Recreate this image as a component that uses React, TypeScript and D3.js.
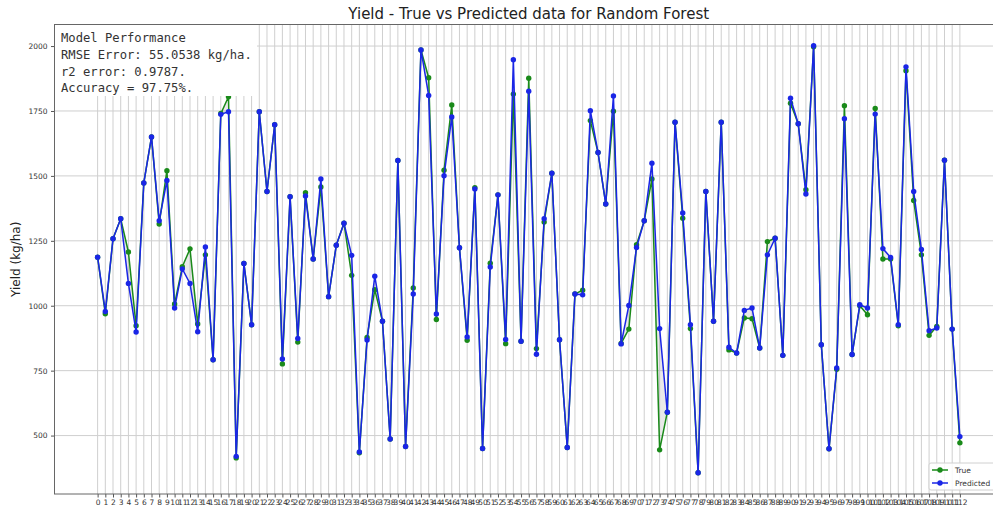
import React, { useEffect, useRef } from 'react';
import * as d3 from 'd3';

// values (kg/ha), index 0..112
const trueYield = [
  1187, 969, 1258, 1335, 1207, 923, 1473, 1650, 1315, 1520,
  1007, 1150, 1219, 930, 1196, 792, 1740, 1805, 414, 1163,
  927, 1747, 1440, 1697, 776, 1420, 860, 1435, 1180, 1457,
  1035, 1233, 1318, 1117, 434, 878, 1062, 940, 487, 1559,
  458, 1068, 1985, 1878, 947, 1522, 1773, 1223, 867, 1455,
  450, 1164, 1427, 854, 1815, 863, 1876, 835, 1322, 1510,
  869, 454, 1045, 1060, 1713, 1590, 1392, 1749, 855, 910,
  1235, 1327, 1488, 445, 590, 1707, 1337, 912, 357, 1440,
  940, 1707, 830, 818, 953, 950, 837, 1247, 1260, 809,
  1780, 1701, 1447, 1997, 850, 449, 755, 1770, 812, 1000,
  965, 1760, 1180, 1180, 923, 1905, 1405, 1196, 886, 920,
  1560, 910, 472,
];
const predYield = [
  1187, 978, 1258, 1335, 1086, 899, 1473, 1650, 1327, 1482,
  991, 1142, 1086, 900, 1226, 792, 1737, 1747, 420, 1163,
  927, 1747, 1440, 1697, 795, 1420, 874, 1423, 1180, 1488,
  1035, 1233, 1318, 1194, 437, 868, 1114, 940, 487, 1559,
  458, 1045, 1985, 1810, 968, 1501, 1727, 1223, 880, 1450,
  450, 1149, 1427, 870, 1947, 863, 1826, 813, 1335, 1510,
  869, 454, 1045, 1042, 1751, 1590, 1392, 1808, 853, 1001,
  1224, 1327, 1549, 912, 590, 1707, 1357, 927, 357, 1440,
  940, 1707, 840, 818, 982, 991, 837, 1196, 1260, 809,
  1799, 1701, 1430, 2001, 850, 449, 760, 1720, 812, 1004,
  991, 1738, 1220, 1186, 927, 1920, 1440, 1217, 904, 914,
  1560, 910, 496,
];
const yTicks = [500, 750, 1000, 1250, 1500, 1750, 2000];
const seriesNames = ['True', 'Predicted'];
const infoLines = [
  'Model Performance',
  'RMSE Error: 55.0538 kg/ha.',
  'r2 error: 0.9787.',
  'Accuracy = 97.75%.',
];

const GREEN = '#1a8a1a';
const BLUE = '#1a26e6';

const App = () => {
  const ref = useRef<SVGSVGElement>(null);

  useEffect(() => {
    const left = 54.5;
    const right = 1003;
    const top = 24.5;
    const bottom = 494;
    const font = '"DejaVu Sans", sans-serif';

    const svg = d3.select(ref.current);
    svg.selectAll('*').remove();

    const idx = d3.range(trueYield.length);
    const x = d3.scaleLinear().domain([-5.6, 117.6]).range([left, right]);
    const y = d3.scaleLinear().domain([275, 2083]).range([bottom, top]);

    // grid
    const grid = svg.append('g').attr('stroke', '#cfcfcf').attr('stroke-width', 1);
    grid
      .selectAll('line.v')
      .data(idx)
      .enter()
      .append('line')
      .attr('x1', (d) => x(d))
      .attr('x2', (d) => x(d))
      .attr('y1', top)
      .attr('y2', bottom);
    grid
      .selectAll('line.h')
      .data(yTicks)
      .enter()
      .append('line')
      .attr('x1', left)
      .attr('x2', right)
      .attr('y1', (d) => y(d))
      .attr('y2', (d) => y(d));

    // axes
    const xAxis = svg
      .append('g')
      .attr('transform', `translate(0,${bottom})`)
      .call(d3.axisBottom(x).tickValues(idx).tickSize(3.5).tickPadding(2.5).tickFormat((d) => String(d)));
    const yAxis = svg
      .append('g')
      .attr('transform', `translate(${left},0)`)
      .call(d3.axisLeft(y).tickValues(yTicks).tickSize(3.5).tickPadding(3.5).tickFormat((d) => String(d)));
    [xAxis, yAxis].forEach((a) => {
      a.select('.domain').remove();
      a.selectAll('line').attr('stroke', '#555');
      a.selectAll('text').attr('font-family', font).attr('font-size', 7.5).attr('fill', '#333');
    });

    svg
      .append('rect')
      .attr('x', left)
      .attr('y', top)
      .attr('width', right - left)
      .attr('height', bottom - top)
      .attr('fill', 'none')
      .attr('stroke', '#666')
      .attr('stroke-width', 1);

    // shaded gap between the two series
    const area = d3
      .area<number>()
      .x((i) => x(i))
      .y0((i) => y(trueYield[i]))
      .y1((i) => y(predYield[i]));
    svg.append('path').attr('d', area(idx)).attr('fill', '#9a9a9a').attr('opacity', 0.22);

    const series = [
      { name: seriesNames[0], vals: trueYield, color: GREEN },
      { name: seriesNames[1], vals: predYield, color: BLUE },
    ];
    series.forEach((s) => {
      const line = d3
        .line<number>()
        .x((i) => x(i))
        .y((i) => y(s.vals[i]));
      svg
        .append('path')
        .attr('d', line(idx))
        .attr('fill', 'none')
        .attr('stroke', s.color)
        .attr('stroke-width', 1.5);
      svg
        .append('g')
        .selectAll('circle')
        .data(idx)
        .enter()
        .append('circle')
        .attr('cx', (i) => x(i))
        .attr('cy', (i) => y(s.vals[i]))
        .attr('r', 2.7)
        .attr('fill', s.color);
    });

    // model performance box
    svg.append('rect').attr('x', left + 0.5).attr('y', top + 0.5).attr('width', 202).attr('height', 71).attr('fill', '#fff');
    svg
      .append('g')
      .selectAll('text')
      .data(infoLines)
      .enter()
      .append('text')
      .attr('x', 61)
      .attr('y', (d, i) => 42 + i * 16.8)
      .attr('font-family', '"DejaVu Sans Mono", monospace')
      .attr('font-size', 12.2)
      .attr('fill', '#333')
      .text((d) => d);

    // legend
    const lg = svg.append('g');
    lg.append('rect')
      .attr('x', 929)
      .attr('y', 463)
      .attr('width', 80)
      .attr('height', 27)
      .attr('rx', 2)
      .attr('fill', '#fff')
      .attr('fill-opacity', 0.85)
      .attr('stroke', '#d0d0d0');
    series.forEach((s, i) => {
      const ly = 470 + i * 13;
      lg.append('line').attr('x1', 932).attr('x2', 948).attr('y1', ly).attr('y2', ly).attr('stroke', s.color).attr('stroke-width', 1.5);
      lg.append('circle').attr('cx', 940).attr('cy', ly).attr('r', 2.7).attr('fill', s.color);
      lg.append('text')
        .attr('x', 955)
        .attr('y', ly + 2.8)
        .attr('font-family', font)
        .attr('font-size', 7.5)
        .attr('fill', '#333')
        .text(s.name);
    });

    // title and axis label
    svg
      .append('text')
      .attr('x', (left + right) / 2)
      .attr('y', 19)
      .attr('text-anchor', 'middle')
      .attr('font-family', font)
      .attr('font-size', 15)
      .attr('fill', '#222')
      .text('Yield - True vs Predicted data for Random Forest');
    svg
      .append('text')
      .attr('transform', `translate(19.5,${(top + bottom) / 2}) rotate(-90)`)
      .attr('text-anchor', 'middle')
      .attr('font-family', font)
      .attr('font-size', 12)
      .attr('fill', '#222')
      .text('Yield (kg/ha)');
  }, []);

  return (
    <svg
      ref={ref}
      width={993}
      height={512}
      style={{ position: 'absolute', left: 0, top: 0, background: '#fff' }}
    />
  );
};

export default App;
